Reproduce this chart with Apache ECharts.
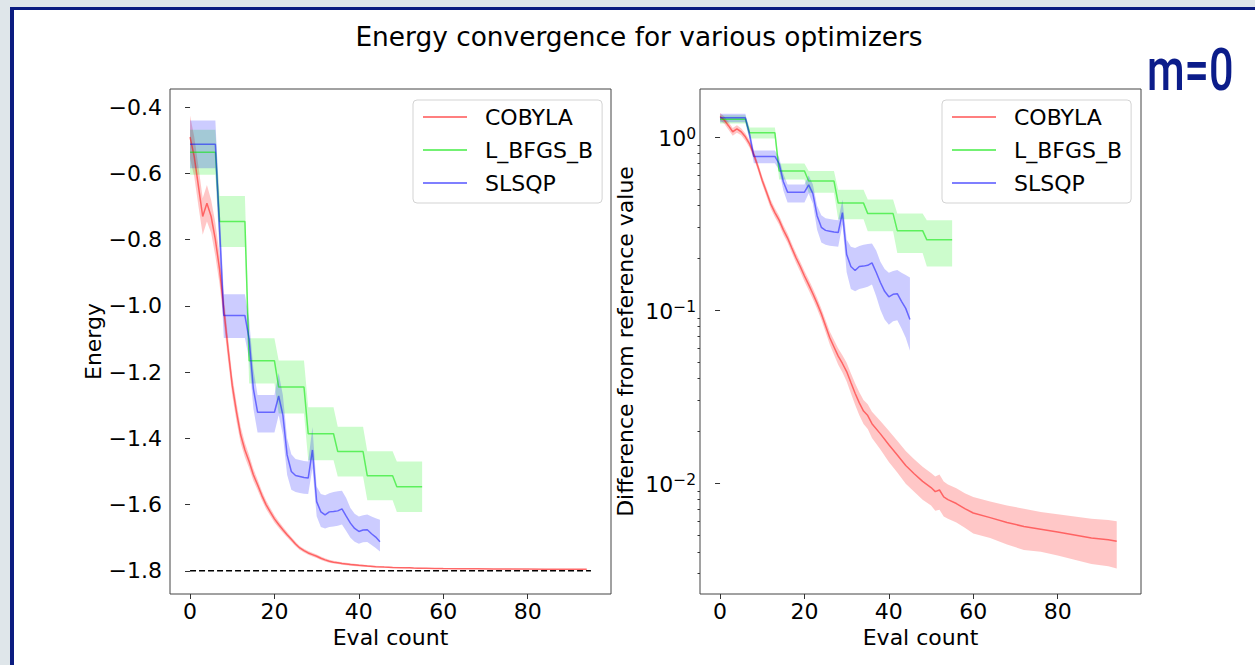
<!DOCTYPE html>
<html><head><meta charset="utf-8">
<script src="https://cdn.jsdelivr.net/npm/echarts@6/dist/echarts.min.js"></script>
<style>html,body{margin:0;padding:0;background:#fff;}#c{width:1255px;height:665px;}</style>
</head><body><div id="c"></div>
<script>
// ---------------- data ----------------
const optimizerNames = ['COBYLA', 'L_BFGS_B', 'SLSQP'];
const xTickValues = [0, 20, 40, 60, 80];
const energyTickValues = [-1.8, -1.6, -1.4, -1.2, -1.0, -0.8, -0.6, -0.4];
const diffMajorTicks = [0.01, 0.1, 1];
const diffMinorTicks = [0.003,0.004,0.005,0.006,0.007,0.008,0.009,0.02,0.03,0.04,0.05,0.06,0.07,0.08,0.09,0.2,0.3,0.4,0.5,0.6,0.7,0.8,0.9];
const referenceEnergy = -1.8;
const referenceX = [0, 95];

const cobylaX = [0,1,2,3,4,5,6,7,8,9,10,11,12,13,14,15,16,17,18,19,20,21,22,23,24,25,26,27,28,29,30,31,32,33,34,35,36,38,40,42,44,46,48,50,51,52,53,54,56,58,60,64,68,72,76,80,84,88,92,94];
const cobylaEnergy = [-0.49,-0.55,-0.64,-0.73,-0.69,-0.73,-0.80,-0.89,-1.01,-1.13,-1.24,-1.32,-1.39,-1.435,-1.47,-1.51,-1.54,-1.572,-1.60,-1.622,-1.643,-1.66,-1.676,-1.691,-1.705,-1.719,-1.731,-1.739,-1.746,-1.751,-1.756,-1.762,-1.767,-1.771,-1.774,-1.7755,-1.778,-1.7808,-1.7834,-1.7855,-1.7874,-1.7887,-1.7898,-1.7906,-1.7911,-1.7908,-1.7917,-1.792,-1.7924,-1.7929,-1.7933,-1.7937,-1.7941,-1.7944,-1.7946,-1.7948,-1.795,-1.7952,-1.7953,-1.7954];
const cobylaDiff = [1.31,1.25,1.16,1.07,1.11,1.07,1.00,0.91,0.79,0.67,0.56,0.48,0.41,0.365,0.33,0.29,0.26,0.228,0.20,0.178,0.157,0.14,0.124,0.109,0.095,0.081,0.069,0.061,0.054,0.049,0.044,0.038,0.033,0.029,0.026,0.0245,0.022,0.0192,0.0166,0.0145,0.0126,0.0113,0.0102,0.0094,0.0089,0.0091,0.0083,0.0080,0.0076,0.0071,0.0067,0.0063,0.0059,0.0056,0.0054,0.0052,0.0050,0.0048,0.0047,0.0046];
const cobylaSpread = [0.065,0.06,0.06,0.055,0.055,0.05,0.05,0.045,0.04,0.035,0.03,0.028,0.025,0.022,0.02,0.018,0.016,0.014,0.013,0.012,0.011,0.01,0.009,0.008,0.007,0.0065,0.006,0.006,0.0058,0.0056,0.0055,0.005,0.0047,0.0044,0.0041,0.004,0.0038,0.0036,0.0034,0.003,0.0027,0.0024,0.0022,0.002,0.002,0.0021,0.0019,0.0018,0.0017,0.0016,0.0016,0.0015,0.0015,0.0015,0.0014,0.0014,0.0014,0.0014,0.0014,0.0014];

const lbfgsbX = [0,1,2,3,4,5,6,7,8,9,10,11,12,13,14,15,16,17,18,19,20,21,22,23,24,25,26,27,28,29,30,31,32,33,34,35,36,37,38,39,40,41,42,43,44,45,46,47,48,49,50,51,52,53,54,55];
const lbfgsbEnergy = [-0.536,-0.536,-0.536,-0.536,-0.536,-0.536,-0.536,-0.745,-0.745,-0.745,-0.745,-0.745,-0.745,-0.745,-1.166,-1.166,-1.166,-1.166,-1.166,-1.166,-1.166,-1.245,-1.245,-1.245,-1.245,-1.245,-1.245,-1.245,-1.386,-1.386,-1.386,-1.386,-1.386,-1.386,-1.386,-1.44,-1.44,-1.44,-1.44,-1.44,-1.44,-1.44,-1.513,-1.513,-1.513,-1.513,-1.513,-1.513,-1.513,-1.546,-1.546,-1.546,-1.546,-1.546,-1.546,-1.546];
const lbfgsbDiff = [1.264,1.264,1.264,1.264,1.264,1.264,1.264,1.055,1.055,1.055,1.055,1.055,1.055,1.055,0.634,0.634,0.634,0.634,0.634,0.634,0.634,0.555,0.555,0.555,0.555,0.555,0.555,0.555,0.414,0.414,0.414,0.414,0.414,0.414,0.414,0.36,0.36,0.36,0.36,0.36,0.36,0.36,0.287,0.287,0.287,0.287,0.287,0.287,0.287,0.254,0.254,0.254,0.254,0.254,0.254,0.254];
const lbfgsbSpread = [0.068,0.068,0.068,0.068,0.068,0.068,0.068,0.077,0.077,0.077,0.077,0.077,0.077,0.077,0.068,0.068,0.068,0.068,0.068,0.068,0.068,0.08,0.08,0.08,0.08,0.08,0.08,0.08,0.08,0.08,0.08,0.08,0.08,0.08,0.08,0.075,0.075,0.075,0.075,0.075,0.075,0.075,0.074,0.074,0.074,0.074,0.074,0.074,0.074,0.076,0.076,0.076,0.076,0.076,0.076,0.076];

const slsqpX = [0,1,2,3,4,5,6,7,8,9,10,11,12,13,14,15,16,17,18,19,20,21,22,23,24,25,26,27,28,29,30,31,32,33,34,35,36,37,38,39,40,41,42,43,44,45];
const slsqpEnergy = [-0.512,-0.512,-0.512,-0.512,-0.512,-0.512,-0.512,-0.77,-1.029,-1.029,-1.029,-1.029,-1.029,-1.029,-1.10,-1.25,-1.321,-1.321,-1.321,-1.321,-1.321,-1.272,-1.33,-1.45,-1.50,-1.512,-1.515,-1.518,-1.52,-1.435,-1.591,-1.622,-1.631,-1.622,-1.621,-1.619,-1.613,-1.635,-1.656,-1.672,-1.681,-1.677,-1.676,-1.688,-1.698,-1.712];
const slsqpEnergyLow = [-0.584,-0.584,-0.584,-0.584,-0.584,-0.584,-0.584,-0.84,-1.097,-1.097,-1.097,-1.097,-1.097,-1.097,-1.16,-1.31,-1.382,-1.382,-1.382,-1.382,-1.382,-1.33,-1.39,-1.51,-1.555,-1.562,-1.565,-1.567,-1.568,-1.49,-1.635,-1.668,-1.672,-1.668,-1.666,-1.664,-1.66,-1.68,-1.70,-1.712,-1.718,-1.714,-1.713,-1.722,-1.731,-1.742];
const slsqpEnergyHigh = [-0.44,-0.44,-0.44,-0.44,-0.44,-0.44,-0.44,-0.70,-0.965,-0.965,-0.965,-0.965,-0.965,-0.965,-1.04,-1.19,-1.269,-1.269,-1.269,-1.269,-1.269,-1.203,-1.27,-1.40,-1.448,-1.462,-1.465,-1.468,-1.47,-1.366,-1.545,-1.568,-1.572,-1.566,-1.562,-1.56,-1.558,-1.58,-1.61,-1.628,-1.636,-1.632,-1.63,-1.636,-1.641,-1.646];
const slsqpDiff = [1.288,1.288,1.288,1.288,1.288,1.288,1.288,1.03,0.771,0.771,0.771,0.771,0.771,0.771,0.70,0.55,0.479,0.479,0.479,0.479,0.479,0.528,0.47,0.35,0.30,0.288,0.285,0.282,0.28,0.365,0.209,0.178,0.169,0.178,0.179,0.181,0.187,0.165,0.144,0.128,0.119,0.123,0.124,0.112,0.102,0.088];
const slsqpDiffLow = [1.216,1.216,1.216,1.216,1.216,1.216,1.216,0.96,0.703,0.703,0.703,0.703,0.703,0.703,0.64,0.49,0.418,0.418,0.418,0.418,0.418,0.47,0.41,0.29,0.245,0.238,0.235,0.233,0.232,0.31,0.165,0.132,0.128,0.132,0.134,0.136,0.14,0.12,0.10,0.088,0.082,0.086,0.087,0.078,0.069,0.058];
const slsqpDiffHigh = [1.36,1.36,1.36,1.36,1.36,1.36,1.36,1.10,0.835,0.835,0.835,0.835,0.835,0.835,0.76,0.61,0.531,0.531,0.531,0.531,0.531,0.597,0.53,0.40,0.352,0.338,0.335,0.332,0.33,0.434,0.255,0.232,0.228,0.234,0.238,0.24,0.242,0.22,0.19,0.172,0.164,0.168,0.17,0.164,0.159,0.154];

// ---------------- styles ----------------
const FONT = 'DejaVu Sans';
const FS = 22;
const lineColors = { 'COBYLA': 'rgba(255,0,0,0.5)', 'L_BFGS_B': 'rgba(0,230,0,0.55)', 'SLSQP': 'rgba(0,0,255,0.5)' };
const bandColors = { 'COBYLA': 'rgba(255,0,0,0.22)', 'L_BFGS_B': 'rgba(0,240,0,0.2)', 'SLSQP': 'rgba(0,0,255,0.2)' };

function lineSeries(name, xs, ys, xi, yi) {
  return { type: 'line', name: name, xAxisIndex: xi, yAxisIndex: yi,
    data: xs.map((x, i) => [x, ys[i]]), showSymbol: false, symbol: 'none',
    lineStyle: { color: lineColors[name], width: 1.5 }, itemStyle: { color: lineColors[name] },
    z: 3, silent: true, animation: false };
}
function bandSeries(name, xs, lo, hi, xi, yi) {
  return { type: 'custom', name: name + ' band', xAxisIndex: xi, yAxisIndex: yi,
    data: xs.map((x, i) => [x, lo[i], hi[i]]), encode: { x: 0, y: [1, 2] },
    silent: true, z: 2, animation: false, clip: true,
    renderItem: function (params, api) {
      if (params.dataIndex !== 0) return null;
      const top = [], bot = [];
      for (let i = 0; i < xs.length; i++) {
        top.push(api.coord([xs[i], hi[i]]));
        bot.push(api.coord([xs[i], lo[i]]));
      }
      return { type: 'polygon', shape: { points: top.concat(bot.reverse()) },
        style: { fill: bandColors[name], stroke: null } };
    } };
}
const minus = (lst, s) => lst.map((v, i) => v - s[i]);
const plus = (lst, s) => lst.map((v, i) => v + s[i]);

const axisLabelStyle = { fontFamily: FONT, fontSize: FS, color: '#000' };
function xAxisFor(gi) {
  return { type: 'value', gridIndex: gi, min: -4.75, max: 99.75,
    name: 'Eval count', nameLocation: 'middle', nameGap: 26,
    nameTextStyle: { fontFamily: FONT, fontSize: FS, color: '#000' },
    axisLine: { show: false }, splitLine: { show: false },
    axisTick: { show: true, length: 5, lineStyle: { color: '#333', width: 1 }, customValues: xTickValues },
    axisLabel: Object.assign({ margin: 6, customValues: xTickValues, formatter: v => String(v) }, axisLabelStyle) };
}

const legendFor = left => ({
  left: left, top: 100, orient: 'vertical', itemWidth: 44, itemHeight: 2, itemGap: 11,
  padding: [6, 9, 9, 10], backgroundColor: 'rgba(255,255,255,0.8)', borderColor: '#d3d3d3',
  borderWidth: 1, borderRadius: 4, selectedMode: false,
  textStyle: { fontFamily: FONT, fontSize: FS, color: '#000', lineHeight: 22, padding: [0, 0, 0, 13] },
  data: optimizerNames.map(n => ({ name: n, icon: 'rect', itemStyle: { color: lineColors[n] } }))
});

const option = {
  animation: false,
  backgroundColor: '#ffffff',
  graphic: [
    { type: 'rect', shape: { x: 0, y: 0, width: 1255, height: 7 }, style: { fill: '#dfe6ea' }, silent: true },
    { type: 'rect', shape: { x: 0, y: 0, width: 10, height: 665 }, style: { fill: '#dfe6ea' }, silent: true },
    { type: 'rect', shape: { x: 10, y: 7, width: 1245, height: 3 }, style: { fill: '#0b1c80' }, silent: true },
    { type: 'rect', shape: { x: 10, y: 7, width: 4, height: 658 }, style: { fill: '#0b1c80' }, silent: true },
    { type: 'text', x: 639, y: 36, silent: true,
      style: { text: 'Energy convergence for various optimizers', fontFamily: FONT, fontSize: 26.4,
        fill: '#000', textAlign: 'center', textVerticalAlign: 'middle' } },
    { type: 'text', x: 1147, y: 70, scaleX: 0.72, silent: true,
      style: { text: 'm=0', fontFamily: 'Roboto', fontWeight: 500, fontSize: 60, fill: '#0b1c8a',
        textAlign: 'left', textVerticalAlign: 'middle' } }
  ],
  legend: [legendFor(413), legendFor(942)],
  grid: [
    { left: 170, top: 89, width: 441, height: 505, show: true, borderColor: '#444', borderWidth: 1, backgroundColor: 'transparent' },
    { left: 700, top: 89, width: 441, height: 505, show: true, borderColor: '#444', borderWidth: 1, backgroundColor: 'transparent' }
  ],
  xAxis: [xAxisFor(0), xAxisFor(1)],
  yAxis: [
    { type: 'value', gridIndex: 0, min: -1.870, max: -0.345,
      name: 'Energy', nameLocation: 'middle', nameGap: 64,
      nameTextStyle: { fontFamily: FONT, fontSize: FS, color: '#000' },
      axisLine: { show: false }, splitLine: { show: false },
      axisTick: { show: true, length: 5, lineStyle: { color: '#333', width: 1 }, customValues: energyTickValues },
      axisLabel: Object.assign({ margin: 8, customValues: energyTickValues,
        formatter: v => (v < 0 ? '\u2212' : '') + Math.abs(v).toFixed(1) }, axisLabelStyle) },
    { type: 'log', logBase: 10, gridIndex: 1, min: 0.00228, max: 1.89,
      name: 'Difference from reference value', nameLocation: 'middle', nameGap: 64,
      nameTextStyle: { fontFamily: FONT, fontSize: FS, color: '#000' },
      axisLine: { show: false }, splitLine: { show: false }, minorTick: { show: false },
      axisTick: { show: true, length: 5, lineStyle: { color: '#333', width: 1 }, customValues: diffMajorTicks },
      axisLabel: { margin: 4, customValues: diffMajorTicks,
        formatter: v => { const e = Math.round(Math.log10(v)); return '{b|10}{s|' + (e < 0 ? '\u2212' + (-e) : e) + '}'; },
        rich: { b: { fontFamily: FONT, fontSize: FS, lineHeight: 21, padding: [3, 0, 0, 0], color: '#000' },
                s: { fontFamily: FONT, fontSize: 15.5, lineHeight: 15, verticalAlign: 'top', color: '#000' } } } },
    { type: 'log', logBase: 10, gridIndex: 1, min: 0.00228, max: 1.89, position: 'left',
      axisLine: { show: false }, splitLine: { show: false }, axisLabel: { show: false },
      axisTick: { show: true, length: 2.5, lineStyle: { color: '#333', width: 1 }, customValues: diffMinorTicks } }
  ],
  series: [
    bandSeries('COBYLA', cobylaX, minus(cobylaEnergy, cobylaSpread), plus(cobylaEnergy, cobylaSpread), 0, 0),
    lineSeries('COBYLA', cobylaX, cobylaEnergy, 0, 0),
    bandSeries('L_BFGS_B', lbfgsbX, minus(lbfgsbEnergy, lbfgsbSpread), plus(lbfgsbEnergy, lbfgsbSpread), 0, 0),
    lineSeries('L_BFGS_B', lbfgsbX, lbfgsbEnergy, 0, 0),
    bandSeries('SLSQP', slsqpX, slsqpEnergyLow, slsqpEnergyHigh, 0, 0),
    lineSeries('SLSQP', slsqpX, slsqpEnergy, 0, 0),
    { type: 'line', name: 'reference', xAxisIndex: 0, yAxisIndex: 0,
      data: referenceX.map(x => [x, referenceEnergy]), showSymbol: false, symbol: 'none',
      lineStyle: { color: '#000', width: 1.5, type: [6, 3] }, z: 4, silent: true },
    bandSeries('COBYLA', cobylaX, minus(cobylaDiff, cobylaSpread), plus(cobylaDiff, cobylaSpread), 1, 1),
    lineSeries('COBYLA', cobylaX, cobylaDiff, 1, 1),
    bandSeries('L_BFGS_B', lbfgsbX, minus(lbfgsbDiff, lbfgsbSpread), plus(lbfgsbDiff, lbfgsbSpread), 1, 1),
    lineSeries('L_BFGS_B', lbfgsbX, lbfgsbDiff, 1, 1),
    bandSeries('SLSQP', slsqpX, slsqpDiffLow, slsqpDiffHigh, 1, 1),
    lineSeries('SLSQP', slsqpX, slsqpDiff, 1, 1)
  ]
};
const chart = echarts.init(document.getElementById('c'), null, { renderer: 'svg', width: 1255, height: 665 });
chart.setOption(option);
</script></body></html>
